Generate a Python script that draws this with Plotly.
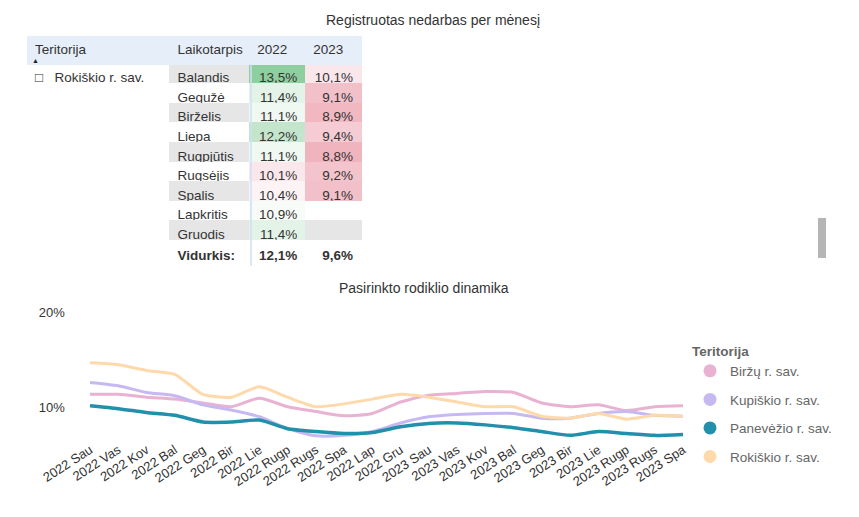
import plotly.graph_objects as go

# ---------------- data ----------------
periods = ["2022 Sau", "2022 Vas", "2022 Kov", "2022 Bal", "2022 Geg", "2022 Bir",
           "2022 Lie", "2022 Rugp", "2022 Rugs", "2022 Spa", "2022 Lap", "2022 Gru",
           "2023 Sau", "2023 Vas", "2023 Kov", "2023 Bal", "2023 Geg", "2023 Bir",
           "2023 Lie", "2023 Rugp", "2023 Rugs", "2023 Spa"]

birzu = [11.4, 11.4, 11.1, 10.9, 10.5, 10.1, 11.0, 10.1, 9.6, 9.15, 9.4, 10.6,
         11.3, 11.5, 11.7, 11.6, 10.5, 10.1, 10.3, 9.7, 10.1, 10.2]
kupiskio = [12.65, 12.3, 11.6, 11.25, 10.3, 9.75, 9.05, 7.8, 7.05, 7.1, 7.5, 8.4,
            9.05, 9.3, 9.4, 9.4, 8.9, 8.9, 9.4, 9.6, 9.2, 9.1]
panevezio = [10.2, 9.9, 9.5, 9.2, 8.5, 8.5, 8.7, 7.8, 7.5, 7.3, 7.4, 8.0,
             8.35, 8.4, 8.2, 7.9, 7.5, 7.1, 7.5, 7.3, 7.1, 7.2]
rokiskio = [14.7, 14.5, 13.9, 13.5, 11.4, 11.1, 12.2, 11.1, 10.1, 10.4, 10.9, 11.4,
            11.1, 10.6, 10.1, 10.1, 9.1, 8.9, 9.4, 8.8, 9.2, 9.1]

series_names = ["Biržų r. sav.", "Kupiškio r. sav.", "Panevėžio r. sav.", "Rokiškio r. sav."]
series_values = [birzu, kupiskio, panevezio, rokiskio]

table_months = ["Balandis", "Gegužė", "Birželis", "Liepa", "Rugpjūtis",
                "Rugsėjis", "Spalis", "Lapkritis", "Gruodis"]
table_territory = "Rokiškio r. sav."
y_ticks = [10, 20]
y_tick_labels = ["10%", "20%"]

# ---------------- styles ----------------
W, H = 859, 517
OFF = 8  # page body margin
FONT = "Liberation Sans, Arial, sans-serif"
line_colors = ["#e9b1d2", "#c6b9f2", "#2290ab", "#fdd9ab"]
line_widths = [3, 3, 3.5, 3]


def px_x(p):
    return (p - OFF) / W


def px_y(p):
    return 1 - (p - OFF) / H


def fmt(v):
    return ("%.1f" % v).replace(".", ",") + "%"


def mix(c1, c2, t):
    return "rgb(%d,%d,%d)" % tuple(round(a + (b - a) * t) for a, b in zip(c1, c2))


# table values derived from Rokiškio series
v2022 = rokiskio[3:12]
v2023 = rokiskio[15:22]
avg2022 = sum(rokiskio[0:12]) / 12
avg2023 = sum(rokiskio[12:22]) / 10
allv = v2022 + v2023
vmin, vmax, vmid = min(allv), max(allv), 10.7
WHITE, GREEN, RED = (255, 255, 255), (143, 207, 159), (240, 180, 191)


def cond_color(v):
    if v >= vmid:
        return mix(WHITE, GREEN, (v - vmid) / (vmax - vmid))
    return mix(WHITE, RED, (vmid - v) / (vmid - vmin))


GRAY = "#e6e6e6"
n_rows = len(table_months) + 1
col_ter = ["□   " + table_territory] + [""] * (n_rows - 1)
col_period = table_months + ["<b>Vidurkis:</b>"]
col_2022 = [fmt(v) for v in v2022] + ["<b>" + fmt(avg2022) + "</b>"]
col_2023 = [fmt(v) for v in v2023] + [""] * (len(table_months) - len(v2023)) + ["<b>" + fmt(avg2023) + "</b>"]

fill_ter = ["white"] * n_rows
fill_period = [GRAY if i % 2 == 0 and i < len(table_months) else "white" for i in range(n_rows)]
fill_2022 = [cond_color(v) for v in v2022] + ["white"]
fill_2023 = [cond_color(v) for v in v2023] + \
    [fill_period[i] for i in range(len(v2023), len(table_months))] + ["white"]

fig = go.Figure()

fig.add_trace(go.Table(
    domain=dict(x=[px_x(27), px_x(362)], y=[px_y(290), px_y(36)]),
    columnwidth=[143, 80, 56, 56],
    header=dict(
        values=["Teritorija", "Laikotarpis", "2022", "2023"],
        align=["left", "left", "left", "left"],
        fill_color="#e6eef9",
        line_color="#e6eef9",
        height=28,
        font=dict(family=FONT, size=13.5, color="#333"),
    ),
    cells=dict(
        values=[col_ter, col_period, col_2022, col_2023],
        align=["left", "left", "right", "right"],
        fill_color=[fill_ter, fill_period, fill_2022, fill_2023],
        line_color=[fill_ter, fill_period, fill_2022, fill_2023],
        height=19.6,
        font=dict(family=FONT, size=13.5, color="#333"),
    ),
))

for name, vals, col, lw in zip(series_names, series_values, line_colors, line_widths):
    fig.add_trace(go.Scatter(
        x=periods, y=vals, mode="lines", name=name,
        line=dict(color=col, width=lw, shape="spline", smoothing=0.6),
        showlegend=False, hoverinfo="x+y+name",
    ))
    fig.add_trace(go.Scatter(
        x=[None], y=[None], mode="markers", name=name,
        marker=dict(color=col, size=13, symbol="circle"),
        legendgroup=name, showlegend=True,
    ))

step = (683 - 90) / (len(periods) - 1)
y_per_px = 10 / 95.4
y_top = 20 + (312.3 - 300) * y_per_px
y_bot = 10 - (445 - 407.7) * y_per_px

fig.update_layout(
    width=W, height=H,
    margin=dict(l=0, r=0, t=0, b=0, autoexpand=False),
    paper_bgcolor="white", plot_bgcolor="white",
    font=dict(family=FONT, color="#333"),
    xaxis=dict(
        domain=[px_x(90 - step / 2), px_x(683 + step / 2)],
        range=[-0.5, len(periods) - 0.5], automargin=False,
        type="category", tickangle=-33, showgrid=False, zeroline=False,
        showline=False, ticks="", ticklabelstandoff=-6,
        tickfont=dict(size=13, color="#333"),
    ),
    yaxis=dict(
        domain=[px_y(445), px_y(300)], automargin=False,
        range=[y_bot, y_top], tickvals=y_ticks, ticktext=y_tick_labels,
        showgrid=False, zeroline=False, showline=False, ticks="",
        ticklabelstandoff=10, tickfont=dict(size=13, color="#333"),
    ),
    legend=dict(
        x=px_x(690), y=px_y(338), xanchor="left", yanchor="top",
        title=dict(text="<b>Teritorija</b>", font=dict(size=13.5, color="#666")),
        font=dict(size=13.5, color="#666"),
        traceorder="grouped", tracegroupgap=8, itemsizing="trace",
        bgcolor="rgba(0,0,0,0)",
    ),
    annotations=[
        dict(text="Registruotas nedarbas per mėnesį", x=px_x(433), y=px_y(20),
             xref="paper", yref="paper", showarrow=False,
             xanchor="center", yanchor="middle",
             font=dict(size=14, color="#333")),
        dict(text="Pasirinkto rodiklio dinamika", x=px_x(424), y=px_y(288),
             xref="paper", yref="paper", showarrow=False,
             xanchor="center", yanchor="middle",
             font=dict(size=14, color="#333")),
        dict(text="▲", x=px_x(36), y=px_y(61), xref="paper", yref="paper",
             xanchor="center", yanchor="middle",
             showarrow=False, font=dict(size=7, color="#222")),
    ],
    shapes=[
        dict(type="line", xref="paper", yref="paper",
             x0=px_x(251), x1=px_x(251), y0=px_y(64), y1=px_y(266),
             line=dict(color="#cfe0f3", width=1.5)),
        dict(type="rect", xref="paper", yref="paper",
             x0=px_x(818), x1=px_x(826), y0=px_y(258), y1=px_y(218),
             fillcolor="#b5b5b5", line=dict(width=0)),
    ],
)

fig.write_html("out.html")
